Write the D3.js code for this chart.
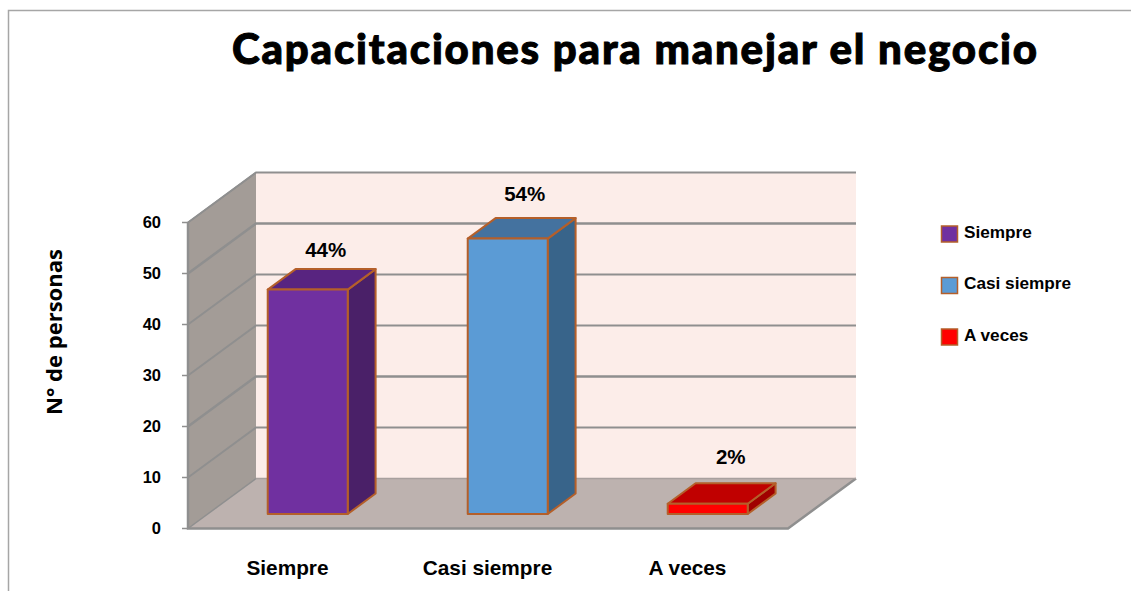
<!DOCTYPE html>
<html><head><meta charset="utf-8">
<script src="https://cdn.jsdelivr.net/npm/d3@7"></script>
<style>html,body{margin:0;padding:0;background:#fff;overflow:hidden}svg{display:block}text{font-family:"Liberation Sans",Arial,sans-serif;font-weight:bold;fill:#000}</style>
</head><body><svg id="c" width="1131" height="591"></svg>
<script>
const titleText = "Capacitaciones para manejar el negocio";
const yTitle = "N° de personas";
const categories = ["Siempre", "Casi siempre", "A veces"];
const values = [44, 54, 2];
const labels = ["44%", "54%", "2%"];
const yTicks = [0, 10, 20, 30, 40, 50, 60];
const frontColors = ["#7030a0", "#5b9bd5", "#ff0000"];
const topColors = ["#582480", "#44729f", "#c00000"];
const sideColors = ["#4a2068", "#38648a", "#a00000"];
const labelNudgeX = [18, 17, 23];
const labelNudgeY = [-12, -17, -19];

const svg = d3.select("#c");
const y = d3.scaleLinear().domain([0, 60]).range([528.5, 222.5]);
const x = d3.scaleBand().domain(categories).range([188, 788]).paddingInner(0.6).paddingOuter(0.3);
const depthX = 68, depthY = -50;
const barFront = 0.29, barBack = 0.70;
const line = d3.line();
const grid = "#8f8f8f", edge = "#b45f2a";
const yTop = y(60);

svg.append("path").attr("d", "M8.5 591V10.5H1131").attr("fill", "none").attr("stroke", "#a6a6a6").attr("stroke-width", 1.5);

// walls
const x0 = x.range()[0], x1 = x.range()[1];
svg.append("path").attr("d", line([[x0 + depthX, y(0) + depthY], [x1 + depthX, y(0) + depthY], [x1 + depthX, yTop + depthY], [x0 + depthX, yTop + depthY]]) + "Z").attr("fill", "#fcede9");
svg.append("path").attr("d", line([[x0, y(0)], [x0 + depthX, y(0) + depthY], [x1 + depthX, y(0) + depthY], [x1, y(0)]]) + "Z").attr("fill", "#bdb2af");
svg.append("path").attr("d", line([[x0, y(0)], [x0 + depthX, y(0) + depthY], [x0 + depthX, yTop + depthY], [x0, yTop]]) + "Z").attr("fill", "#a39c97");

// grid
yTicks.forEach(t => {
  if (t > 0) svg.append("path").attr("d", line([[x0, y(t)], [x0 + depthX, y(t) + depthY], [x1 + depthX, y(t) + depthY]])).attr("fill", "none").attr("stroke", grid).attr("stroke-width", (t === 50 || t === 20) ? 2.6 : 1.9);
  svg.append("path").attr("d", line([[x0 - 6, y(t)], [x0, y(t)]])).attr("stroke", grid).attr("stroke-width", 1.5);
});
svg.append("path").attr("d", line([[x0, yTop], [x0 + depthX, yTop + depthY]])).attr("stroke", grid).attr("stroke-width", 1.5);
svg.append("path").attr("d", line([[x0, y(0)], [x0 + depthX, y(0) + depthY]])).attr("stroke", grid).attr("stroke-width", 1.5);
svg.append("path").attr("d", line([[x0, yTop], [x0, y(0)], [x1, y(0)], [x1 + depthX, y(0) + depthY]])).attr("fill", "none").attr("stroke", grid).attr("stroke-width", 2.5);
svg.append("path").attr("d", line([[x0 + depthX, y(0) + depthY], [x1 + depthX, y(0) + depthY]])).attr("stroke", "#a8a09e").attr("stroke-width", 1.5);

// bars
categories.forEach((c, i) => {
  const l = x(c) + depthX * barFront, r = l + x.bandwidth();
  const b = y(0) + depthY * barFront, t = y(values[i]) + depthY * barFront;
  const dx = depthX * (barBack - barFront), dy = depthY * (barBack - barFront);
  const g = svg.append("g").attr("stroke", edge).attr("stroke-width", 2).attr("stroke-linejoin", "round");
  g.append("path").attr("d", line([[r, t], [r + dx, t + dy], [r + dx, b + dy], [r, b]]) + "Z").attr("fill", sideColors[i]);
  g.append("path").attr("d", line([[l, t], [l + dx, t + dy], [r + dx, t + dy], [r, t]]) + "Z").attr("fill", topColors[i]);
  g.append("path").attr("d", line([[l, t], [r, t], [r, b], [l, b]]) + "Z").attr("fill", frontColors[i]);
  svg.append("text").attr("x", (l + r) / 2 + labelNudgeX[i]).attr("y", t + dy + labelNudgeY[i]).attr("text-anchor", "middle").attr("font-size", 20.5).text(labels[i]);
  svg.append("text").attr("x", x(c) + x.bandwidth() / 2 - 0.5).attr("y", 575).attr("text-anchor", "middle").attr("font-size", 20.8).text(c);
});

// axis labels
yTicks.forEach(t => svg.append("text").attr("x", 161).attr("y", y(t) + 5.5).attr("text-anchor", "end").attr("font-size", 16.5).text(t));

// legend
categories.forEach((c, i) => {
  const ly = 226 + i * 51.5;
  svg.append("rect").attr("x", 941.5).attr("y", ly).attr("width", 16).attr("height", 16).attr("fill", frontColors[i]).attr("stroke", edge).attr("stroke-width", 1.5);
  svg.append("text").attr("x", 964).attr("y", ly + 11.5).attr("font-size", 17.2).text(c);
});

svg.append("text").attr("x", 232).attr("y", 64).attr("textLength", 805).attr("lengthAdjust", "spacing").style("font-family", "Lato").style("font-weight", 900).style("stroke", "#000").style("stroke-width", 1).attr("font-size", 42).text(titleText);
svg.append("text").attr("transform", "translate(62,332) rotate(-90)").attr("text-anchor", "middle").style("font-family", "'Open Sans'").style("font-weight", 700).attr("font-size", 22).text(yTitle);
</script></body></html>
